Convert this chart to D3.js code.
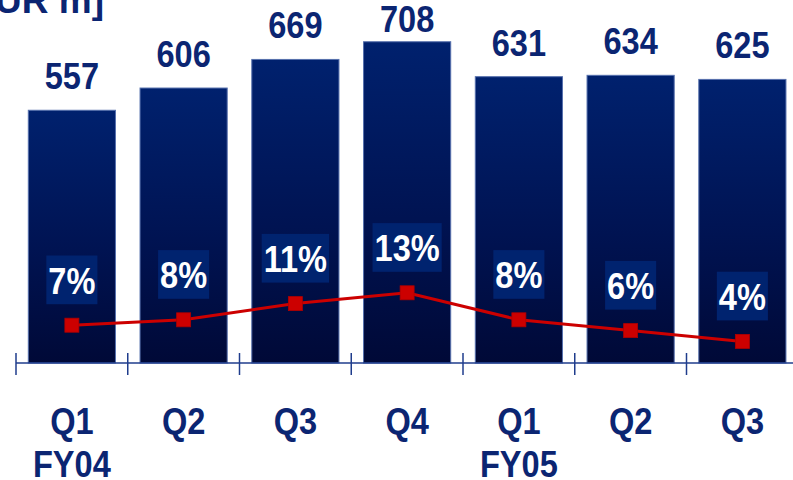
<!DOCTYPE html>
<html>
<head>
<meta charset="utf-8">
<script src="https://cdn.jsdelivr.net/npm/d3@7/dist/d3.min.js"></script>
<style>
  html, body { margin: 0; padding: 0; background: #fff; }
  svg { display: block; }
  text { font-family: "Liberation Sans", Arial, sans-serif; font-weight: bold; }
</style>
</head>
<body>
<svg id="chart" width="793" height="480"></svg>
<script>
// Quarterly sales (EUR m) and margin (%)
const quarters = ["Q1", "Q2", "Q3", "Q4", "Q1", "Q2", "Q3"];
const fiscalYears = ["FY04", "", "", "", "FY05", "", ""];
const sales = [557, 606, 669, 708, 631, 634, 625];
const margins = [7, 8, 11, 13, 8, 6, 4];
const unitLabel = "[EUR m]";

const W = 793, H = 480;
const baseY = 363;
const left = 16, step = 111.75;
const squeeze = 0.88;
const navy = "#0b2572";

const keys = quarters.map((q, i) => i);
const svg = d3.select("#chart");

const x = d3.scaleBand()
  .domain(keys)
  .range([left, left + step * keys.length])
  .paddingInner(0.22)
  .paddingOuter(0.11);

const y = d3.scaleLinear().domain([0, 800]).range([baseY, 0]);
const y2 = d3.scaleLinear().domain([0, 60]).range([baseY, baseY - 60 * 5.4]);

// bar gradient
const defs = svg.append("defs");
const grad = defs.append("linearGradient")
  .attr("id", "barGrad").attr("x1", 0).attr("y1", 0).attr("x2", 0).attr("y2", 1);
grad.append("stop").attr("offset", "0%").attr("stop-color", "#00216e");
grad.append("stop").attr("offset", "55%").attr("stop-color", "#001352");
grad.append("stop").attr("offset", "100%").attr("stop-color", "#000937");

// unit title (runs off the top-left edge)
svg.append("text")
  .attr("x", 104)
  .attr("y", 13)
  .attr("text-anchor", "end")
  .attr("font-size", 37)
  .attr("fill", navy)
  .text(unitLabel);

// bars
svg.append("g").selectAll("rect")
  .data(keys)
  .join("rect")
  .attr("x", i => x(i))
  .attr("y", i => y(sales[i]))
  .attr("width", x.bandwidth())
  .attr("height", i => baseY - y(sales[i]))
  .attr("fill", "url(#barGrad)")
  .attr("stroke", "#5670ad")
  .attr("stroke-width", 1);

// value labels, kept inside the top edge
svg.append("g").selectAll("text")
  .data(keys)
  .join("text")
  .attr("transform", i => `translate(${x(i) + x.bandwidth() / 2},${Math.max(y(sales[i]) - 21, 32)}) scale(${squeeze},1)`)
  .attr("text-anchor", "middle")
  .attr("font-size", 37)
  .attr("fill", navy)
  .text(i => sales[i]);

// axis line and boundary ticks
const axis = svg.append("g").attr("stroke", "#1f3c8c").attr("stroke-width", 1.5);
axis.append("line").attr("x1", left).attr("x2", W).attr("y1", baseY).attr("y2", baseY);
const bounds = d3.range(keys.length + 1).map(k => x.range()[0] + k * x.step());
axis.selectAll("line.tick")
  .data(bounds)
  .join("line")
  .attr("class", "tick")
  .attr("x1", d => d).attr("x2", d => d)
  .attr("y1", baseY - 10).attr("y2", baseY + 12);

// category labels
svg.append("g").selectAll("text")
  .data(keys)
  .join("text")
  .attr("transform", i => `translate(${x(i) + x.bandwidth() / 2},434) scale(${squeeze},1)`)
  .attr("text-anchor", "middle")
  .attr("font-size", 37)
  .attr("fill", navy)
  .text(i => quarters[i]);

svg.append("g").selectAll("text")
  .data(keys.filter(i => fiscalYears[i]))
  .join("text")
  .attr("transform", i => `translate(${x(i) + x.bandwidth() / 2},477) scale(${squeeze},1)`)
  .attr("text-anchor", "middle")
  .attr("font-size", 37)
  .attr("fill", navy)
  .text(i => fiscalYears[i]);

// margin line
const cx = i => x(i) + x.bandwidth() / 2;
svg.append("path")
  .datum(keys)
  .attr("fill", "none")
  .attr("stroke", "#cc0000")
  .attr("stroke-width", 3)
  .attr("d", d3.line().x(cx).y(i => y2(margins[i])));

svg.append("g").selectAll("rect")
  .data(keys)
  .join("rect")
  .attr("x", i => cx(i) - 7)
  .attr("y", i => y2(margins[i]) - 7)
  .attr("width", 14)
  .attr("height", 14)
  .attr("fill", "#cc0000")
  .attr("stroke", "#b00000")
  .attr("stroke-width", 0.8);

// margin labels on boxes
const mg = svg.append("g").selectAll("g")
  .data(keys)
  .join("g")
  .attr("transform", i => `translate(${cx(i)},${y2(margins[i]) - 31.7})`);

mg.append("rect").attr("class", "box").attr("fill", "#00236f");
mg.append("text")
  .attr("transform", `scale(${squeeze},1)`)
  .attr("text-anchor", "middle")
  .attr("font-size", 37)
  .attr("fill", "#ffffff")
  .text(i => margins[i] + "%");

mg.each(function () {
  const g = d3.select(this);
  const w = g.select("text").node().getComputedTextLength() * squeeze + 4;
  g.select("rect.box")
    .attr("x", -w / 2).attr("y", -38)
    .attr("width", w).attr("height", 48.7);
});
</script>
</body>
</html>
